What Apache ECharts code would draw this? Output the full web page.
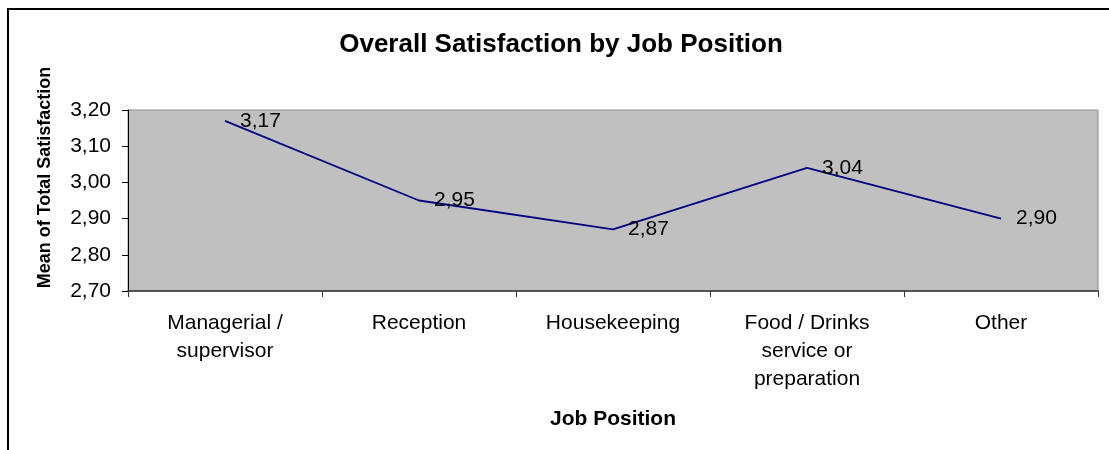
<!DOCTYPE html>
<html>
<head>
<meta charset="utf-8">
<title>Overall Satisfaction by Job Position</title>
<script src="https://cdn.jsdelivr.net/npm/echarts@6/dist/echarts.min.js"></script>
<style>
    html, body { margin: 0; padding: 0; background: #fff; }
    #chart { width: 1109px; height: 450px; }
</style>
</head>
<body>
<div id="chart"></div>
<script>
    'use strict';

    // categories as printed under the axis (line breaks as in the picture)
    const jobPositions = [
        'Managerial /\nsupervisor',
        'Reception',
        'Housekeeping',
        'Food / Drinks\nservice or\npreparation',
        'Other'
    ];
    const meanSatisfaction = [3.17, 2.95, 2.87, 3.04, 2.90];

    const yMin = 2.7;
    const yMax = 3.2;
    const yStep = 0.1;

    const FONT = '"Liberation Sans", Arial, sans-serif';

    function comma(v) {
        return Number(v).toFixed(2).replace('.', ',');
    }

    let chart = echarts.init(document.getElementById('chart'), null, {renderer: 'canvas'});

    chart.setOption({
        animation: false,
        backgroundColor: '#ffffff',
        textStyle: {fontFamily: FONT},
        title: {
            text: 'Overall Satisfaction by Job Position',
            left: 556,
            textAlign: 'center',
            top: 27,
            textStyle: {fontFamily: FONT, fontSize: 26, fontWeight: 'bold', color: '#000'}
        },
        // outer chart frame, runs off the right and bottom edge
        graphic: [{
            type: 'rect',
            shape: {x: 8, y: 9, width: 1200, height: 600},
            style: {fill: 'none', stroke: '#000', lineWidth: 2},
            silent: true,
            z: 100
        }],
        grid: {
            left: 128,
            top: 110,
            right: 11,
            bottom: 159,
            show: true,
            backgroundColor: '#C0C0C0',
            borderColor: '#8c8c8c',
            borderWidth: 1
        },
        xAxis: {
            type: 'category',
            data: jobPositions,
            boundaryGap: true,
            name: 'Job Position',
            nameLocation: 'middle',
            nameGap: 118,
            nameTextStyle: {fontFamily: FONT, fontSize: 21, fontWeight: 'bold', color: '#000'},
            axisLine: {lineStyle: {color: '#333', width: 1.5}},
            axisTick: {show: true, length: 6, lineStyle: {color: '#333'}},
            axisLabel: {
                interval: 0,
                margin: 18,
                fontFamily: FONT,
                fontSize: 21,
                lineHeight: 28,
                color: '#000'
            },
            splitLine: {show: false}
        },
        yAxis: {
            type: 'value',
            min: yMin,
            max: yMax,
            interval: yStep,
            name: 'Mean of Total Satisfaction',
            nameLocation: 'middle',
            nameGap: 74,
            // the title sits a little above the middle of the plot
            nameTextStyle: {fontFamily: FONT, fontSize: 18, fontWeight: 'bold', color: '#000', padding: [0, 0, 0, 46]},
            axisLine: {show: true, lineStyle: {color: '#000', width: 1}},
            axisTick: {show: true, length: 6, lineStyle: {color: '#000'}},
            axisLabel: {
                margin: 17,
                fontFamily: FONT,
                fontSize: 21,
                color: '#000',
                formatter: comma
            },
            splitLine: {show: false}
        },
        series: [{
            type: 'line',
            data: meanSatisfaction,
            showSymbol: true,
            symbol: 'circle',
            symbolSize: 0,
            itemStyle: {color: '#000080'},
            lineStyle: {color: '#000080', width: 1.8},
            label: {
                show: true,
                position: 'right',
                distance: 15,
                fontFamily: FONT,
                fontSize: 21,
                color: '#000',
                formatter: p => comma(p.value)
            },
            z: 3
        }]
    });
</script>
</body>
</html>
